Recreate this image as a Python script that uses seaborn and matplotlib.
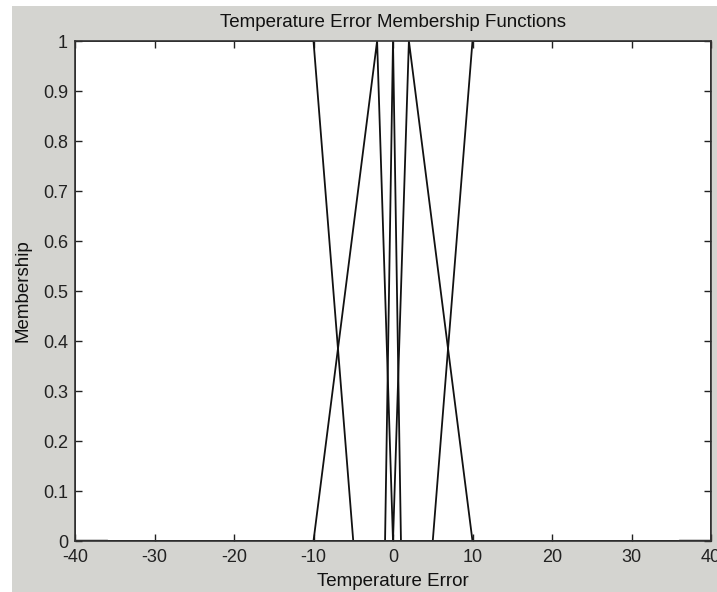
import matplotlib
matplotlib.use("Agg")
import matplotlib.pyplot as plt
import matplotlib.patches as mpatches
import seaborn as sns
import pandas as pd

# Membership functions (breakpoints over the universe [-40, 40])
mf_names = ["NB", "NS", "ZE", "PS", "PB"]
nb_x = [-40, -40, -10, -5, 40]
nb_y = [0, 1, 1, 0, 0]
ns_x = [-40, -10, -2, 0, 40]
ns_y = [0, 0, 1, 0, 0]
ze_x = [-40, -1, 0, 1, 40]
ze_y = [0, 0, 1, 0, 0]
ps_x = [-40, 0, 2, 10, 40]
ps_y = [0, 0, 1, 0, 0]
pb_x = [-40, 5, 10, 40, 40]
pb_y = [0, 0, 1, 1, 0]
# darker baseline stubs at the range ends
edge_left_x = [-40, -36]
edge_right_x = [36, 40]
edge_y = [0, 0]

x_ticks = [-40, -30, -20, -10, 0, 10, 20, 30, 40]
y_ticks = [0, 0.1, 0.2, 0.3, 0.4, 0.5, 0.6, 0.7, 0.8, 0.9, 1]
y_tick_labels = ["0", "0.1", "0.2", "0.3", "0.4", "0.5", "0.6", "0.7", "0.8", "0.9", "1"]

sns.set_style("white")
plt.rcParams["font.family"] = ["Liberation Sans", "DejaVu Sans"]

rows = []
for name, xs, ys in zip(mf_names, [nb_x, ns_x, ze_x, ps_x, pb_x], [nb_y, ns_y, ze_y, ps_y, pb_y]):
    for i, (a, b) in enumerate(zip(xs, ys)):
        rows.append({"mf": name, "x": a, "y": b, "order": i})
df = pd.DataFrame(rows)

edges = pd.DataFrame({
    "seg": ["L", "L", "R", "R"],
    "x": edge_left_x + edge_right_x,
    "y": edge_y + edge_y,
})

W, H = 717, 592
fig = plt.figure(figsize=(W / 100, H / 100), dpi=100, facecolor="white")
bg = mpatches.Rectangle((12 / W, 0), 1 - 12 / W, 1 - 6 / H, transform=fig.transFigure,
                        facecolor="#d4d4d0", edgecolor="none", zorder=-10)
fig.patches.append(bg)

ax = fig.add_axes([75 / W, 1 - 541 / H, (711 - 75) / W, (541 - 41) / H])
ax.set_facecolor("white")

sns.lineplot(data=df, x="x", y="y", hue="mf", units="mf", estimator=None, sort=False,
             palette={n: "#111111" for n in mf_names}, legend=False, linewidth=1.3, ax=ax)
sns.lineplot(data=edges, x="x", y="y", hue="seg", units="seg", estimator=None, sort=False,
             palette={"L": "#222222", "R": "#222222"}, legend=False, linewidth=2.5, ax=ax)

ax.set_xlim(-40, 40)
ax.set_ylim(0, 1)
ax.set_xticks(x_ticks)
ax.set_xticklabels([str(t) for t in x_ticks])
ax.set_yticks(y_ticks)
ax.set_yticklabels(y_tick_labels)
ax.tick_params(direction="in", length=5, width=1, colors="#222222", labelsize=13,
               top=True, right=True, bottom=True, left=True)
ax.tick_params(axis="x", pad=6)
ax.tick_params(axis="y", pad=5)
for s in ax.spines.values():
    s.set_visible(True)
    s.set_color("#333333")
    s.set_linewidth(1.2)

ax.set_title("Temperature Error Membership Functions", fontsize=13.5, color="#111111", pad=10)
ax.set_xlabel("Temperature Error", fontsize=13.5, color="#111111", labelpad=5)
ax.set_ylabel("Membership", fontsize=13.5, color="#111111", labelpad=8)

fig.savefig("out.png", dpi=100, facecolor=fig.get_facecolor())
